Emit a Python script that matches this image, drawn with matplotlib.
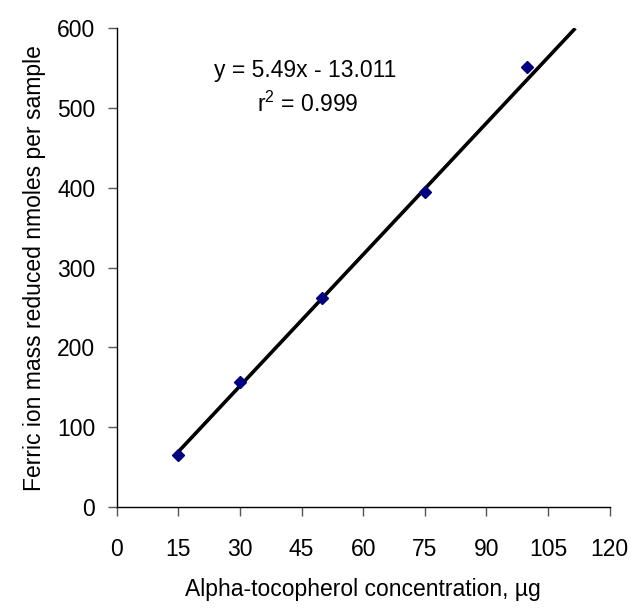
import matplotlib
matplotlib.use('Agg')
import matplotlib.pyplot as plt
import numpy as np

# data
conc = [15, 30, 50, 75, 100]
ferric = [65, 157, 262, 395, 551]
slope = 5.49
intercept = -13.011
r2 = 0.999

plt.rcParams['font.family'] = ['Liberation Sans', 'DejaVu Sans']
plt.rcParams['mathtext.fontset'] = 'custom'
plt.rcParams['mathtext.rm'] = 'Liberation Sans'
plt.rcParams['mathtext.it'] = 'Liberation Sans'
fs = 16.5

fig = plt.figure(figsize=(6.35, 6.13), dpi=100)
ax = fig.add_axes([0.184, 0.173, 0.776, 0.781])

# trend line from first point up to the top of the plot
x_end = (600 - intercept) / slope
xs = np.array([conc[0], x_end])
ax.plot(xs, slope * xs + intercept, color='black', lw=2.6, zorder=2,
        solid_capstyle='butt')
ax.plot(conc, ferric, linestyle='none', marker='D', color='#000080',
        markersize=6.5, zorder=3)

ax.set_xlim(0, 120)
ax.set_ylim(0, 600)
ax.set_xticks(np.arange(0, 121, 15))
ax.set_yticks(np.arange(0, 601, 100))
ax.spines['top'].set_visible(False)
ax.spines['right'].set_visible(False)
for s in ['left', 'bottom']:
    ax.spines[s].set_linewidth(1)
ax.tick_params(labelsize=fs, length=6.5, width=1, direction='out', color='#555555')
ax.tick_params(axis='x', pad=16)
ax.tick_params(axis='y', pad=9)

ax.set_xlabel('Alpha-tocopherol concentration, µg', fontsize=fs, labelpad=12)
ax.set_ylabel('Ferric ion mass reduced nmoles per sample', fontsize=fs, labelpad=8)

ax.text(45.8, 539, 'y = %.2fx - %.3f' % (slope, -intercept), fontsize=fs,
        ha='center', va='baseline')
ax.text(46.5, 495, r'r$^\mathrm{2}$ = %.3f' % r2, fontsize=fs, ha='center', va='baseline')

fig.savefig('out.png', dpi=100)
